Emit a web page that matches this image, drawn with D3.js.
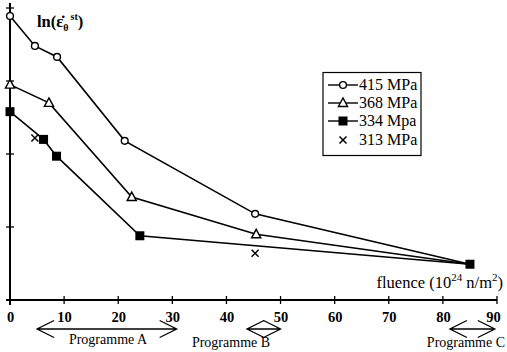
<!DOCTYPE html>
<html><head><meta charset="utf-8">
<script src="https://cdn.jsdelivr.net/npm/d3@7"></script>
<style>body{margin:0;background:#fff}svg{display:block}</style>
</head><body><svg id="c" width="507" height="352"></svg>
<script>
const xTicks = [0,10,20,30,40,50,60,70,80,90];
const yTicks = [0,1,2,3,4];
const s415 = [[0,3.89],[4.6,3.48],[8.7,3.33],[21.2,2.18],[45.3,1.18],[85,0.49]];
const s368 = [[0,2.95],[7.2,2.70],[22.5,1.41],[45.5,0.90],[85,0.49]];
const s334 = [[0,2.58],[6.2,2.20],[8.6,1.97],[24,0.88],[85,0.49]];
const s313 = [[4.6,2.22],[45.3,0.64]];
const legendLabels = ["415 MPa","368 MPa","334 Mpa","313 MPa"];
const programmes = [["Programme A",5,30.8],["Programme B",43.8,50],["Programme C",81.3,89.6]];

const svg = d3.select("#c");
const x = d3.scaleLinear().domain([0,90]).range([10,497]);
const y = d3.scaleLinear().domain([0,4]).range([300,8]);
const serif = "'Liberation Serif','Times New Roman',serif";

// axes
const xa = svg.append("g").attr("transform","translate(0,300)")
  .call(d3.axisBottom(x).tickValues(xTicks).tickSize(0).tickPadding(12).tickFormat(d3.format("d")));
xa.select(".domain").remove();
xa.selectAll("text").attr("font-family",serif).attr("font-size",14.5).attr("font-weight","bold").attr("fill","#000");
xa.selectAll("text").filter(d=>d===90).attr("dx",-4);
svg.append("line").attr("x1",x(0)-4).attr("x2",x(90)).attr("y1",300).attr("y2",300).attr("stroke","#000").attr("stroke-width",2);
svg.selectAll(".xt").data(xTicks).join("line").attr("x1",d=>x(d)).attr("x2",d=>x(d)).attr("y1",296).attr("y2",304).attr("stroke","#000").attr("stroke-width",1.3);
svg.append("line").attr("x1",10).attr("x2",10).attr("y1",y(4.07)).attr("y2",305).attr("stroke","#000").attr("stroke-width",2);
svg.selectAll(".yt").data(yTicks).join("line").attr("x1",6).attr("x2",14).attr("y1",d=>y(d)).attr("y2",d=>y(d)).attr("stroke","#000").attr("stroke-width",1.3);

// series lines
const line = d3.line().x(d=>x(d[0])).y(d=>y(d[1]));
[s415,s368,s334].forEach(s=>{
  svg.append("path").attr("d",line(s)).attr("fill","none").attr("stroke","#000").attr("stroke-width",1.6);
});

function circle(g,cx,cy){g.append("circle").attr("cx",cx).attr("cy",cy).attr("r",3.4).attr("fill","#fff").attr("stroke","#000").attr("stroke-width",1.4);}
function tri(g,cx,cy){g.append("path").attr("d",`M${cx},${cy-5}L${cx+4.6},${cy+3.5}L${cx-4.6},${cy+3.5}Z`).attr("fill","#fff").attr("stroke","#000").attr("stroke-width",1.4);}
function sq(g,cx,cy){g.append("rect").attr("x",cx-4.5).attr("y",cy-4.5).attr("width",9).attr("height",9).attr("fill","#000");}
function cross(g,cx,cy){g.append("path").attr("d",`M${cx-3.5},${cy-3.5}L${cx+3.5},${cy+3.5}M${cx+3.5},${cy-3.5}L${cx-3.5},${cy+3.5}`).attr("stroke","#000").attr("stroke-width",1.5);}

s415.slice(0,-1).forEach(d=>circle(svg,x(d[0]),y(d[1])));
s368.slice(0,-1).forEach(d=>tri(svg,x(d[0]),y(d[1])));
s313.forEach(d=>cross(svg,x(d[0]),y(d[1])));
s334.forEach(d=>sq(svg,x(d[0]),y(d[1])));

// y title
const t = svg.append("text").attr("x",37).attr("y",27).attr("font-family",serif).attr("font-size",16.5).attr("font-weight","bold");
t.append("tspan").text("ln(\u03b5\u0307");
t.append("tspan").attr("font-size",10).attr("dy",4).text("\u03b8");
t.append("tspan").attr("font-size",10).attr("dy",-11).attr("dx",2).text("st");
t.append("tspan").attr("dy",7).text(")");

// x title
const ft = svg.append("text").attr("x",503).attr("y",288).attr("text-anchor","end").attr("font-family",serif).attr("font-size",16.5);
ft.append("tspan").text("fluence (10");
ft.append("tspan").attr("font-size",11).attr("dy",-7).text("24");
ft.append("tspan").attr("dy",7).text(" n/m");
ft.append("tspan").attr("font-size",11).attr("dy",-7).text("2");
ft.append("tspan").attr("dy",7).text(")");

// legend
svg.append("rect").attr("x",323).attr("y",72.5).attr("width",98).attr("height",83).attr("fill","#fff").attr("stroke","#000").attr("stroke-width",1.2);
const ly = [85,103,121,140];
const drawers = [circle,tri,sq,cross];
legendLabels.forEach((lab,i)=>{
  if(i<3) svg.append("line").attr("x1",328).attr("x2",358).attr("y1",ly[i]).attr("y2",ly[i]).attr("stroke","#000").attr("stroke-width",1.4);
  drawers[i](svg,343,ly[i]);
  svg.append("text").attr("x",359).attr("y",ly[i]+5).attr("font-family",serif).attr("font-size",16).text(lab);
});

// programme arrows
programmes.forEach(([name,a,b],i)=>{
  const x1=x(a), x2=x(b), yy=329, h=17, v=8.5;
  svg.append("path").attr("d",`M${x1},${yy}L${x2},${yy}M${x1+h},${yy-v}L${x1},${yy}L${x1+h},${yy+v}M${x2-h},${yy-v}L${x2},${yy}L${x2-h},${yy+v}`)
    .attr("fill","none").attr("stroke","#000").attr("stroke-width",1.3);
});
const pl = [[108,344,"middle"],[231,347,"middle"],[505,347,"end"]];
programmes.forEach(([name],i)=>{
  svg.append("text").attr("x",pl[i][0]).attr("y",pl[i][1]).attr("text-anchor",pl[i][2]).attr("font-family",serif).attr("font-size",14).text(name);
});
</script></body></html>
